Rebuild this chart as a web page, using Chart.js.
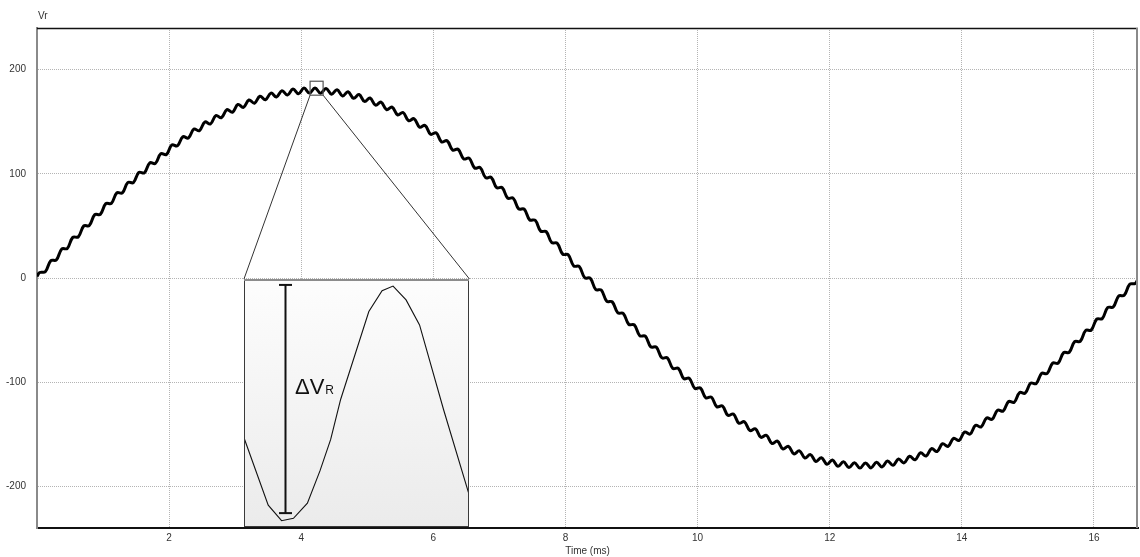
<!DOCTYPE html>
<html><head><meta charset="utf-8">
<script src="https://cdn.jsdelivr.net/npm/chart.js@4.4.1/dist/chart.umd.min.js"></script>
<style>
html,body{margin:0;padding:0;background:#fff;overflow:hidden;}
#wrap{position:relative;width:1140px;height:557px;}
#main{position:absolute;left:0;top:0;}
#inset{position:absolute;left:0;top:0;}
</style></head><body>
<div id="wrap"><canvas id="main" width="1140" height="557"></canvas><canvas id="inset" width="10" height="10"></canvas></div>
<script>
// ---- data ----
const periodMs = 16.667;          // one mains period shown on the x axis
const firstSampleMs = 1 / 24;     // sample clock of the trace (ms)
const sampleIntervalMs = 1 / 12;

// Vr trace (V): start value, 200 samples, end value
const vr = [1.5,
 5.3, 6.0, 16.6, 17.3, 27.9, 28.4, 39.0, 39.5, 50.0, 50.4,
 60.8, 61.1, 71.4, 71.6, 81.7, 81.7, 91.7, 91.6, 101.3, 101.0,
 110.6, 110.0, 119.4, 118.6, 127.8, 126.8, 135.6, 134.4, 143.0, 141.4,
 149.8, 147.9, 156.0, 153.9, 161.6, 159.1, 166.6, 163.8, 170.9, 167.8,
 174.5, 171.1, 177.5, 173.8, 179.8, 175.7, 181.4, 176.9, 182.3, 177.5,
 182.5, 177.3, 181.9, 176.4, 180.7, 174.8, 178.8, 172.5, 176.1, 169.5,
 172.8, 165.9, 168.8, 161.6, 164.1, 156.6, 158.9, 151.0, 152.9, 144.8,
 146.4, 138.0, 139.4, 130.6, 131.8, 122.8, 123.6, 114.4, 115.0, 105.6,
 106.0, 96.3, 96.6, 86.7, 86.7, 76.7, 76.6, 66.4, 66.1, 55.8,
 55.4, 45.0, 44.5, 34.0, 33.4, 22.9, 22.3, 11.6, 11.0, 0.3,
 -0.3, -11.0, -11.6, -22.3, -22.9, -33.4, -34.0, -44.5, -45.0, -55.4,
 -55.8, -66.1, -66.4, -76.6, -76.7, -86.7, -86.7, -96.6, -96.3, -106.0,
 -105.6, -115.0, -114.4, -123.6, -122.8, -131.8, -130.6, -139.4, -138.0, -146.4,
 -144.8, -152.9, -151.0, -158.9, -156.6, -164.1, -161.6, -168.8, -165.9, -172.8,
 -169.5, -176.1, -172.5, -178.8, -174.8, -180.7, -176.4, -181.9, -177.3, -182.5,
 -177.5, -182.3, -176.9, -181.4, -175.7, -179.8, -173.8, -177.5, -171.1, -174.5,
 -167.8, -170.9, -163.8, -166.6, -159.1, -161.6, -153.9, -156.0, -147.9, -149.8,
 -141.4, -143.0, -134.4, -135.6, -126.8, -127.8, -118.6, -119.4, -110.0, -110.6,
 -101.0, -101.3, -91.6, -91.7, -81.7, -81.7, -71.6, -71.4, -61.1, -60.8,
 -50.4, -50.0, -39.5, -39.0, -28.4, -27.9, -17.3, -16.6, -6.0, -5.3,
 -1.0];

const xTicks = [2, 4, 6, 8, 10, 12, 14, 16];
const yTicks = [-200, -100, 0, 100, 200];
const yRange = [-240, 240];

// magnified region (small box on the trace) and where the inset sits
const zoomT = [4.134, 4.331];
const zoomV = [175.5, 188.9];
const insetT = [3.133, 6.547];
const insetTopV = -1;

// inset trace: one ripple cycle
const insetTimes = [4.1343, 4.1552, 4.1669, 4.1773, 4.1895, 4.2005, 4.2099, 4.2186, 4.2433, 4.2549, 4.2645, 4.2759, 4.2877, 4.3087, 4.3305];
const insetVolts = [180.27, 176.68, 175.84, 175.97, 176.79, 178.53, 180.23, 182.39, 187.14, 188.27, 188.52, 187.77, 186.42, 181.85, 177.37];
const rippleMarkT = 4.170;
const rippleMarkV = [188.58, 176.25];
const rippleLabelV = 182.7;

// ---- build ----
const sampleCount = vr.length - 2;
const timeMs = [0];
for (let k = 0; k < sampleCount; k++) timeMs.push(firstSampleMs + k * sampleIntervalMs);
timeMs.push(periodMs);
const tracePoints = timeMs.map((t, i) => ({x: t, y: vr[i]}));

const tickFont = {family: "'Liberation Sans', Arial, sans-serif", size: 10};
const tickColor = '#333';
const gridColor = '#b4b4b4';

const framePlugin = {
  id: 'frame',
  afterDraw(chart) {
    const {ctx, chartArea: a, scales: {x, y}} = chart;
    ctx.save();
    ctx.strokeStyle = '#111'; ctx.lineWidth = 1.5;
    ctx.beginPath(); ctx.moveTo(a.left, a.top + 0.5); ctx.lineTo(a.right, a.top + 0.5); ctx.stroke();
    ctx.strokeStyle = '#8a8a8a'; ctx.lineWidth = 2;
    ctx.beginPath(); ctx.moveTo(a.right - 1, a.top); ctx.lineTo(a.right - 1, a.bottom); ctx.stroke();
    ctx.fillStyle = tickColor; ctx.font = "10px 'Liberation Sans', Arial, sans-serif";
    ctx.textAlign = 'left'; ctx.textBaseline = 'alphabetic';
    ctx.fillText('Vr', a.left + 1, a.top - 9);
    const bx1 = x.getPixelForValue(zoomT[0]), bx2 = x.getPixelForValue(zoomT[1]);
    const by1 = y.getPixelForValue(zoomV[1]), by2 = y.getPixelForValue(zoomV[0]);
    ctx.strokeStyle = '#555'; ctx.lineWidth = 1.2;
    ctx.strokeRect(bx1, by1, bx2 - bx1, by2 - by1);
    const ix1 = x.getPixelForValue(insetT[0]), ix2 = x.getPixelForValue(insetT[1]);
    const iy = y.getPixelForValue(insetTopV);
    ctx.strokeStyle = '#333'; ctx.lineWidth = 1;
    ctx.beginPath(); ctx.moveTo(bx1, by2); ctx.lineTo(ix1, iy); ctx.stroke();
    ctx.beginPath(); ctx.moveTo(bx2, by2); ctx.lineTo(ix2, iy); ctx.stroke();
    ctx.restore();
  }
};

const mainChart = new Chart(document.getElementById('main'), {
  type: 'line',
  data: {datasets: [{
    data: tracePoints, borderColor: '#000', borderWidth: 3, pointRadius: 0,
    tension: 0.4, fill: false
  }]},
  options: {
    responsive: false, animation: false, events: [],
    layout: {padding: {top: 28, right: 2, left: 0, bottom: 0}},
    plugins: {legend: {display: false}, tooltip: {enabled: false}},
    scales: {
      x: {
        type: 'linear', min: 0, max: periodMs,
        afterBuildTicks: s => { s.ticks = xTicks.map(v => ({value: v})); },
        afterFit: s => { s.height = 29; },
        grid: {color: gridColor, lineWidth: 1, drawTicks: false},
        border: {display: true, color: '#111', width: 2, dash: [1, 1]},
        ticks: {padding: 4, font: tickFont, color: tickColor, maxRotation: 0, autoSkip: false},
        title: {display: true, text: 'Time (ms)', padding: {top: 0, bottom: 0}, font: tickFont, color: tickColor}
      },
      y: {
        type: 'linear', min: yRange[0], max: yRange[1],
        afterBuildTicks: s => { s.ticks = yTicks.map(v => ({value: v})); },
        afterFit: s => { s.width = 37; },
        grid: {color: gridColor, lineWidth: 1, drawTicks: false},
        border: {display: true, color: '#8a8a8a', width: 2, dash: [1, 1]},
        ticks: {padding: 11, font: tickFont, color: tickColor}
      }
    }
  },
  plugins: [framePlugin]
});

// ---- inset ----
const mx = mainChart.scales.x, my = mainChart.scales.y;
const iLeft = Math.round(mx.getPixelForValue(insetT[0]));
const iRight = Math.round(mx.getPixelForValue(insetT[1]));
const iTop = Math.round(my.getPixelForValue(insetTopV));
const iBottom = Math.round(mainChart.chartArea.bottom) - 1;
const insetCanvas = document.getElementById('inset');
insetCanvas.width = iRight - iLeft; insetCanvas.height = iBottom - iTop;
insetCanvas.style.left = iLeft + 'px'; insetCanvas.style.top = iTop + 'px';
insetCanvas.style.width = (iRight - iLeft) + 'px'; insetCanvas.style.height = (iBottom - iTop) + 'px';

const insetPlugin = {
  id: 'insetDeco',
  beforeDraw(chart) {
    const {ctx, width, height} = chart;
    const g = ctx.createLinearGradient(0, 0, 0, height);
    g.addColorStop(0, '#fdfdfd'); g.addColorStop(1, '#ebebeb');
    ctx.save(); ctx.fillStyle = g; ctx.fillRect(0, 0, width, height); ctx.restore();
  },
  afterDraw(chart) {
    const {ctx, width, height, scales: {x, y}} = chart;
    ctx.save();
    ctx.strokeStyle = '#3a3a3a'; ctx.lineWidth = 1;
    ctx.strokeRect(0.5, 0.5, width - 1, height - 1);
    ctx.strokeStyle = '#8c8c8c'; ctx.lineWidth = 2;
    ctx.beginPath(); ctx.moveTo(0, 1); ctx.lineTo(width, 1); ctx.stroke();
    const mxp = Math.round(x.getPixelForValue(rippleMarkT)) + 0.5;
    const yTop = y.getPixelForValue(rippleMarkV[0]), yBot = y.getPixelForValue(rippleMarkV[1]);
    ctx.strokeStyle = '#111'; ctx.lineWidth = 2;
    ctx.beginPath(); ctx.moveTo(mxp, yTop); ctx.lineTo(mxp, yBot); ctx.stroke();
    ctx.beginPath(); ctx.moveTo(mxp - 6.5, yTop); ctx.lineTo(mxp + 6.5, yTop); ctx.stroke();
    ctx.beginPath(); ctx.moveTo(mxp - 6.5, yBot); ctx.lineTo(mxp + 6.5, yBot); ctx.stroke();
    ctx.fillStyle = '#111'; ctx.textBaseline = 'alphabetic'; ctx.textAlign = 'left';
    ctx.font = "22px 'Liberation Sans', Arial, sans-serif";
    const tx = mxp + 9.5, ty = y.getPixelForValue(rippleLabelV);
    ctx.fillText('ΔV', tx, ty);
    const w = ctx.measureText('ΔV').width;
    ctx.font = "12px 'Liberation Sans', Arial, sans-serif";
    ctx.fillText('R', tx + w + 1, ty);
    ctx.restore();
  }
};

new Chart(insetCanvas, {
  type: 'line',
  data: {datasets: [{
    data: insetTimes.map((t, i) => ({x: t, y: insetVolts[i]})),
    borderColor: '#111', borderWidth: 1.1, pointRadius: 0, tension: 0, fill: false
  }]},
  options: {
    responsive: false, animation: false, events: [],
    layout: {padding: 0},
    plugins: {legend: {display: false}, tooltip: {enabled: false}},
    scales: {
      x: {type: 'linear', display: false, min: zoomT[0], max: zoomT[1]},
      y: {type: 'linear', display: false, min: zoomV[0], max: zoomV[1]}
    }
  },
  plugins: [insetPlugin]
});
</script>
</body></html>
